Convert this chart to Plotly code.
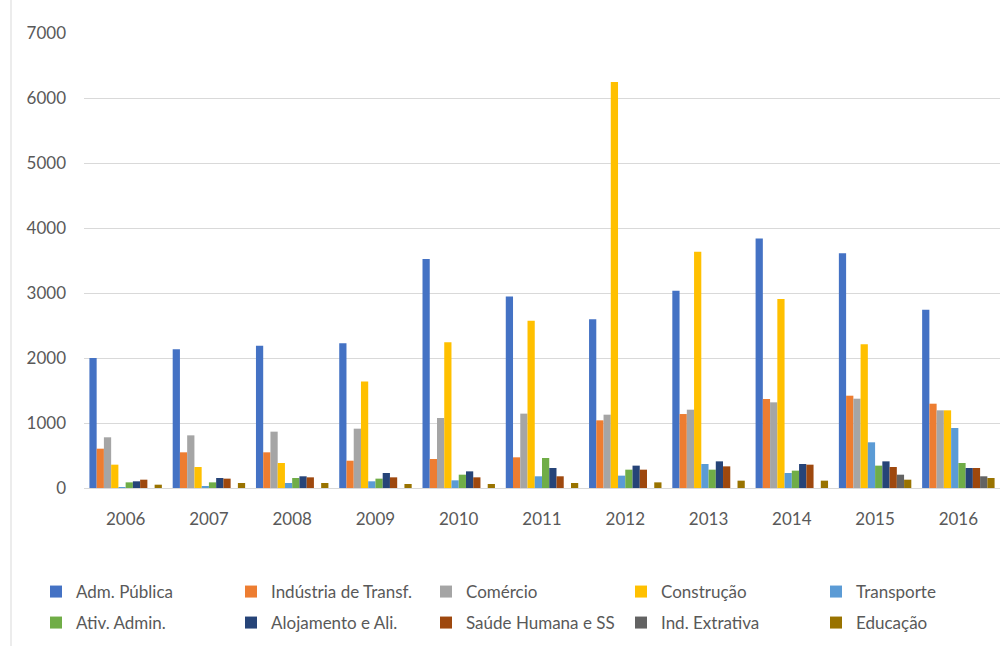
import plotly.graph_objects as go

years = ["2006", "2007", "2008", "2009", "2010", "2011", "2012", "2013", "2014", "2015", "2016"]

adm_publica = [2000, 2135, 2190, 2227, 3525, 2945, 2596, 3035, 3840, 3610, 2742]
industria_transf = [605, 549, 549, 420, 446, 472, 1041, 1138, 1369, 1420, 1297]
comercio = [780, 810, 867, 913, 1077, 1144, 1128, 1205, 1318, 1374, 1195]
construcao = [359, 323, 385, 1637, 2243, 2575, 6246, 3634, 2908, 2212, 1195]
transporte = [15, 25, 77, 103, 118, 180, 190, 369, 231, 703, 923]
ativ_admin = [87, 87, 154, 144, 205, 462, 282, 282, 267, 344, 385]
alojamento = [103, 154, 180, 231, 256, 308, 344, 410, 369, 410, 308]
saude = [128, 144, 164, 164, 164, 180, 282, 333, 359, 323, 308]
ind_extrativa = [0, 0, 0, 0, 0, 0, 0, 0, 0, 205, 180]
educacao = [51, 77, 77, 62, 62, 77, 87, 113, 113, 128, 154]

series = [
    ("Adm. Pública", adm_publica, "#4472C4", "legend"),
    ("Indústria de Transf.", industria_transf, "#ED7D31", "legend"),
    ("Comércio", comercio, "#A5A5A5", "legend"),
    ("Construção", construcao, "#FFC000", "legend"),
    ("Transporte", transporte, "#5B9BD5", "legend"),
    ("Ativ. Admin.", ativ_admin, "#70AD47", "legend2"),
    ("Alojamento e Ali.", alojamento, "#264478", "legend2"),
    ("Saúde Humana e SS", saude, "#9E480E", "legend2"),
    ("Ind. Extrativa", ind_extrativa, "#636363", "legend2"),
    ("Educação", educacao, "#997300", "legend2"),
]

FONT = "Lato, 'Open Sans', sans-serif"
TXT = "#595959"

fig = go.Figure()
for i, (name, vals, color, lg) in enumerate(series):
    fig.add_trace(go.Bar(
        x=years, y=vals, name=name, marker=dict(color=color, line=dict(width=0)),
        legend=lg, legendwidth=(88 if i in (4, 9) else 150),
    ))

W, H = 1007, 646
L, R, T, B = 84, 7, 33, 158
pw = W - L - R
ph = H - T - B

def px_x(p):
    return (p - L) / pw

def px_y(p):
    return (H - B - p) / ph

legend_common = dict(
    orientation="h", xanchor="left", yanchor="middle",
    xref="container", yref="container",
    font=dict(family=FONT, size=17, color=TXT),
    bgcolor="rgba(0,0,0,0)", itemwidth=30,
)

fig.update_layout(
    width=W, height=H,
    margin=dict(l=L, r=R, t=T, b=B, autoexpand=False),
    paper_bgcolor="white", plot_bgcolor="white",
    barmode="group", bargap=0.13, bargroupgap=0,
    font=dict(family=FONT, size=17, color=TXT),
    legend=dict(x=36 / W, y=1 - 592 / H, **legend_common),
    legend2=dict(x=36 / W, y=1 - 623 / H, **legend_common),
    xaxis=dict(
        type="category", showgrid=False, showline=True, linecolor="#D9D9D9", linewidth=1,
        ticks="", tickfont=dict(family=FONT, size=17, color=TXT), ticklabelstandoff=16,
        automargin=False,
    ),
    yaxis=dict(
        range=[0, 7000], dtick=1000, showgrid=True, gridcolor="#D9D9D9", gridwidth=1,
        zeroline=False, showline=False, ticks="",
        tickfont=dict(family=FONT, size=17, color=TXT), ticklabelstandoff=17,
        automargin=False,
    ),
    shapes=[dict(
        type="line", xref="paper", yref="paper",
        x0=px_x(11), x1=px_x(11), y0=px_y(0), y1=px_y(646),
        line=dict(color="#D9D9D9", width=1),
    )],
)

fig.write_html("out.html")
